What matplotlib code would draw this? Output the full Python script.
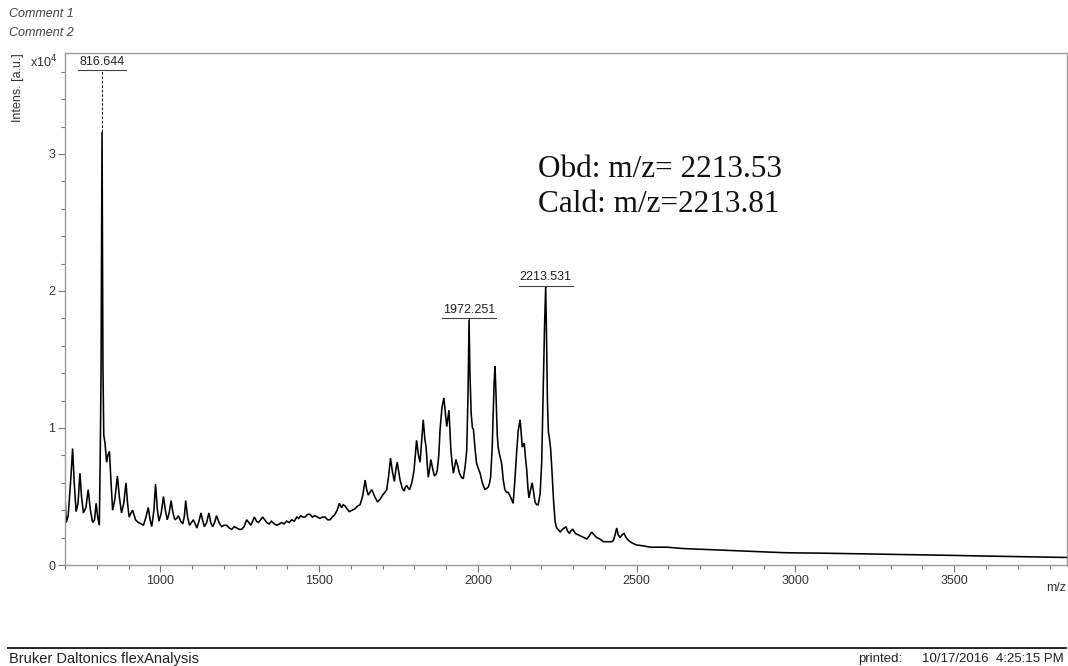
import numpy as np
import matplotlib as mpl
mpl.use('Agg')
import matplotlib.pyplot as plt
from matplotlib.ticker import MultipleLocator
from matplotlib.lines import Line2D

plt.rcParams['font.family'] = ['Liberation Sans', 'DejaVu Sans']

# spectrum trace, intensity in units of 1e4 a.u.
mz = [700, 704, 710, 718, 724, 729, 735, 741, 747, 752,
      758, 766, 773, 780, 787, 793, 798, 803, 808, 811,
      813.5, 816.644, 819.5, 822, 826, 831, 835, 840, 845, 850,
      857, 865, 871, 878, 885, 892, 897, 902, 908, 913,
      922, 931, 940, 947, 955, 962, 968, 973, 980, 985,
      991, 996, 1003, 1010, 1016, 1022, 1028, 1034, 1040, 1046,
      1052, 1057, 1064, 1071, 1076, 1080, 1086, 1092, 1098, 1104,
      1110, 1115, 1122, 1128, 1134, 1139, 1146, 1153, 1159, 1165,
      1171, 1177, 1185, 1193, 1201, 1209, 1217, 1225, 1233, 1241,
      1249, 1256, 1264, 1272, 1279, 1285, 1291, 1296, 1303, 1309,
      1316, 1322, 1329, 1335, 1343, 1350, 1359, 1367, 1375, 1382,
      1390, 1398, 1406, 1414, 1422, 1430, 1436, 1442, 1449, 1456,
      1464, 1471, 1479, 1487, 1495, 1503, 1511, 1519, 1527, 1534,
      1542, 1550, 1557, 1564, 1568, 1571, 1576, 1582, 1588, 1595,
      1604, 1613, 1621, 1629, 1637, 1645, 1650, 1655, 1660, 1666,
      1675, 1684, 1692, 1700, 1707, 1713, 1719, 1725, 1731, 1737,
      1742, 1746, 1751, 1755, 1762, 1768, 1772, 1776, 1781, 1785,
      1792, 1799, 1803, 1807, 1813, 1818, 1823, 1828, 1833, 1837,
      1841, 1844, 1848, 1852, 1858, 1863, 1868, 1872, 1877, 1881,
      1887, 1893, 1898, 1902, 1906, 1909, 1912, 1915, 1919, 1923,
      1927, 1931, 1937, 1942, 1948, 1954, 1960, 1965, 1969, 1972.251,
      1975, 1979, 1983, 1986, 1991, 1996, 2002, 2007, 2014, 2022,
      2028, 2033, 2037, 2040, 2045, 2049, 2051, 2054, 2057, 2061,
      2064, 2067, 2071, 2075, 2080, 2085, 2090, 2096, 2104, 2111,
      2116, 2122, 2127, 2133, 2137, 2140, 2143, 2146, 2150, 2154,
      2158, 2161, 2166, 2171, 2176, 2180, 2185, 2190, 2196, 2201,
      2206, 2210, 2213.531, 2216, 2219, 2222, 2225, 2229, 2233, 2238,
      2243, 2248, 2253, 2259, 2266, 2272, 2277, 2282, 2288, 2293,
      2299, 2307, 2316, 2325, 2334, 2343, 2350, 2358, 2366, 2374,
      2384, 2395, 2405, 2416, 2422, 2427, 2432, 2437, 2442, 2448,
      2454, 2460, 2467, 2474, 2486, 2500, 2520, 2542, 2570, 2595,
      2620, 2647, 2700, 2752, 2800, 2857, 2910, 2962, 3014, 3067,
      3120, 3172, 3250, 3330, 3420, 3500, 3580, 3660, 3740, 3800,
      3855]
intens = [0.50, 0.31, 0.36, 0.62, 0.85, 0.60, 0.39, 0.45, 0.67, 0.50,
          0.38, 0.42, 0.55, 0.40, 0.31, 0.33, 0.45, 0.35, 0.29, 0.80,
          1.40, 3.16, 1.45, 0.95, 0.89, 0.75, 0.80, 0.83, 0.60, 0.40,
          0.48, 0.65, 0.50, 0.38, 0.45, 0.60, 0.45, 0.35, 0.38, 0.40,
          0.33, 0.31, 0.30, 0.29, 0.35, 0.42, 0.33, 0.28, 0.40, 0.59,
          0.40, 0.32, 0.38, 0.50, 0.40, 0.33, 0.38, 0.47, 0.38, 0.33,
          0.34, 0.36, 0.32, 0.30, 0.36, 0.47, 0.35, 0.29, 0.31, 0.33,
          0.30, 0.27, 0.32, 0.38, 0.32, 0.28, 0.31, 0.38, 0.31, 0.28,
          0.31, 0.36, 0.31, 0.28, 0.29, 0.29, 0.27, 0.26, 0.28, 0.27,
          0.26, 0.26, 0.28, 0.33, 0.31, 0.29, 0.32, 0.35, 0.32, 0.31,
          0.33, 0.35, 0.33, 0.31, 0.30, 0.32, 0.30, 0.29, 0.30, 0.31,
          0.30, 0.32, 0.31, 0.33, 0.32, 0.35, 0.34, 0.36, 0.35, 0.35,
          0.37, 0.37, 0.35, 0.36, 0.35, 0.34, 0.35, 0.35, 0.33, 0.33,
          0.35, 0.37, 0.40, 0.45, 0.43, 0.42, 0.44, 0.43, 0.41, 0.39,
          0.40, 0.41, 0.43, 0.44, 0.50, 0.62, 0.55, 0.51, 0.53, 0.55,
          0.50, 0.46, 0.48, 0.51, 0.53, 0.55, 0.65, 0.78, 0.68, 0.61,
          0.70, 0.75, 0.68, 0.62, 0.56, 0.54, 0.57, 0.58, 0.56, 0.55,
          0.60, 0.69, 0.80, 0.91, 0.80, 0.75, 0.90, 1.06, 0.92, 0.86,
          0.72, 0.64, 0.70, 0.77, 0.70, 0.65, 0.66, 0.69, 0.80, 0.99,
          1.15, 1.22, 1.10, 1.01, 1.08, 1.13, 0.98, 0.84, 0.74, 0.67,
          0.72, 0.77, 0.72, 0.67, 0.64, 0.63, 0.72, 0.84, 1.25, 1.79,
          1.40, 1.10, 1.00, 0.99, 0.85, 0.74, 0.70, 0.67, 0.60, 0.55,
          0.56, 0.57, 0.60, 0.64, 0.85, 1.15, 1.32, 1.45, 1.25, 0.95,
          0.86, 0.82, 0.78, 0.74, 0.62, 0.55, 0.53, 0.53, 0.49, 0.45,
          0.60, 0.82, 0.98, 1.06, 0.95, 0.86, 0.88, 0.89, 0.78, 0.69,
          0.55, 0.49, 0.55, 0.60, 0.52, 0.46, 0.44, 0.44, 0.52, 0.75,
          1.30, 1.75, 2.03, 1.70, 1.20, 0.97, 0.93, 0.85, 0.70, 0.48,
          0.32, 0.27, 0.26, 0.24, 0.26, 0.27, 0.28, 0.25, 0.23, 0.25,
          0.26, 0.23, 0.22, 0.21, 0.20, 0.19, 0.21, 0.24, 0.22, 0.20,
          0.19, 0.17, 0.17, 0.17, 0.17, 0.18, 0.22, 0.27, 0.22, 0.20,
          0.22, 0.23, 0.20, 0.18, 0.16, 0.146, 0.14, 0.13, 0.13, 0.13,
          0.125, 0.12, 0.115, 0.11, 0.105, 0.10, 0.095, 0.09, 0.088, 0.087,
          0.085, 0.083, 0.080, 0.077, 0.073, 0.070, 0.066, 0.063, 0.060, 0.058,
          0.055]

peak_mz = [816.644, 1972.251, 2213.531]
peak_text = ['816.644', '1972.251', '2213.531']

note_lines = ['Obd: m/z= 2213.53', 'Cald: m/z=2213.81']

XMIN, XMAX = 700, 3855
YMAX = 3.737

W, H = 1068, 666
fig = plt.figure(figsize=(W / 100, H / 100), dpi=100)
ax = fig.add_axes([65 / W, 1 - 565 / H, (1067 - 65) / W, (565 - 53) / H])

ax.plot(mz, intens, color='black', lw=1.15, solid_joinstyle='miter')
ax.set_xlim(XMIN, XMAX)
ax.set_ylim(0, YMAX)

for sp in ax.spines.values():
    sp.set_color('#9a9a9a')
    sp.set_linewidth(1.0)

ax.xaxis.set_major_locator(MultipleLocator(500))
ax.xaxis.set_minor_locator(MultipleLocator(100))
ax.yaxis.set_major_locator(MultipleLocator(1))
ax.yaxis.set_minor_locator(MultipleLocator(0.2))
ax.set_xticks([1000, 1500, 2000, 2500, 3000, 3500])
ax.tick_params(which='major', direction='out', length=5, width=0.8,
               color='#777777', labelsize=9, labelcolor='#333333', pad=2)
ax.tick_params(which='minor', direction='out', length=3, width=0.8,
               color='#777777')
ax.yaxis.set_major_formatter(plt.FuncFormatter(lambda v, p: '%d' % v))

# peak labels with underline and leader to the peak top
fig.canvas.draw()
renderer = fig.canvas.get_renderer()
to_data = ax.transData.inverted()
for m, txt in zip(peak_mz, peak_text):
    top = np.interp(m, mz, intens)
    clipped = top > 3.0
    y_lab = 3.61 if clipped else top + 0.01
    t = ax.text(m, y_lab + 0.015, txt, ha='center', va='bottom',
                fontsize=9, color='#222222')
    bb = t.get_window_extent(renderer)
    x0 = to_data.transform((bb.x0 - 1, 0))[0]
    x1 = to_data.transform((bb.x1 + 1, 0))[0]
    ax.plot([x0, x1], [y_lab, y_lab], color='#444444', lw=0.8)
    ax.plot([m, m], [top, y_lab], color='#222222', lw=0.8,
            ls=(0, (2.5, 1.5)) if clipped else '-')

fig.text(18 / W, 1 - 53 / H, 'Intens. [a.u.]', rotation=90, ha='center',
         va='top', fontsize=9, color='#333333')
fig.text(30 / W, 1 - 62 / H, r'x10$^4$', ha='left', va='center',
         fontsize=9, color='#333333')
fig.text(1066 / W, 1 - 588 / H, 'm/z', ha='right', va='center',
         fontsize=9, color='#333333')

fig.text(9 / W, 1 - 14 / H, 'Comment 1', ha='left', va='center',
         fontsize=9, style='italic', color='#444444')
fig.text(9 / W, 1 - 33 / H, 'Comment 2', ha='left', va='center',
         fontsize=9, style='italic', color='#444444')

for i, line in enumerate(note_lines):
    fig.text(538 / W, 1 - (176.7 + 35 * i) / H, line, ha='left',
             va='baseline', fontsize=22.5, family='Liberation Serif',
             color='#111111')

fig.add_artist(Line2D([8 / W, 1066 / W], [1 - 648 / H, 1 - 648 / H],
                      color='#222222', lw=1.4, transform=fig.transFigure))
fig.text(9 / W, 1 - 659 / H, 'Bruker Daltonics flexAnalysis', ha='left',
         va='center', fontsize=10.5, color='#222222')
fig.text(858 / W, 1 - 659 / H, 'printed:', ha='left', va='center',
         fontsize=9.5, color='#222222')
fig.text(1064 / W, 1 - 659 / H, '10/17/2016  4:25:15 PM', ha='right',
         va='center', fontsize=9.5, color='#222222')

fig.savefig('out.png', dpi=100)
